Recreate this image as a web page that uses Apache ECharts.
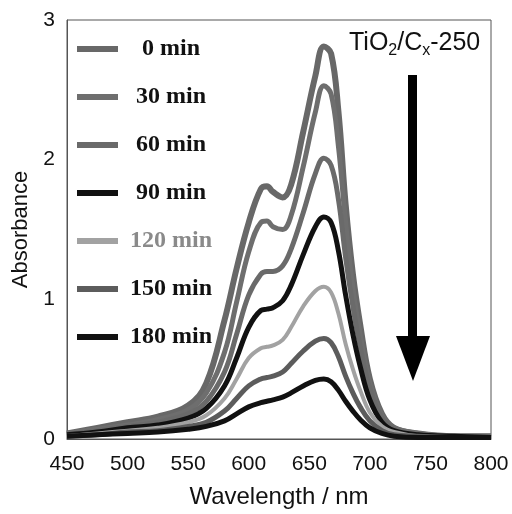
<!DOCTYPE html>
<html>
<head>
<meta charset="utf-8">
<script src="https://cdn.jsdelivr.net/npm/echarts@6/dist/echarts.min.js"></script>
<style>
  html, body { margin: 0; padding: 0; background: #fff; }
  #chart { width: 512px; height: 514px; }
</style>
</head>
<body>
<div id="chart"></div>
<script>
// 波长 (nm)
const wavelength = [450, 475, 500, 525, 550, 565, 580, 590, 600, 610, 615, 620, 628, 635, 645, 655, 662, 668, 674, 680, 686, 692, 700, 710, 720, 740, 770, 800];

// 各时间点吸光度
const abs0   = [0.04, 0.08, 0.12, 0.16, 0.24, 0.40, 0.85, 1.22, 1.55, 1.79, 1.81, 1.77, 1.73, 1.82, 2.20, 2.60, 2.81, 2.76, 2.35, 1.68, 1.18, 0.82, 0.43, 0.18, 0.08, 0.04, 0.02, 0.02];
const abs30  = [0.04, 0.07, 0.10, 0.14, 0.21, 0.33, 0.62, 0.98, 1.34, 1.55, 1.56, 1.52, 1.50, 1.60, 1.95, 2.34, 2.53, 2.47, 2.10, 1.55, 1.08, 0.75, 0.40, 0.17, 0.08, 0.04, 0.02, 0.02];
const abs60  = [0.03, 0.06, 0.09, 0.12, 0.18, 0.27, 0.48, 0.75, 1.03, 1.18, 1.20, 1.20, 1.24, 1.36, 1.62, 1.90, 2.01, 1.96, 1.72, 1.30, 0.95, 0.66, 0.36, 0.15, 0.07, 0.03, 0.02, 0.01];
const abs90  = [0.03, 0.05, 0.08, 0.10, 0.15, 0.22, 0.38, 0.58, 0.80, 0.92, 0.93, 0.94, 0.99, 1.10, 1.32, 1.52, 1.59, 1.55, 1.35, 1.03, 0.75, 0.52, 0.28, 0.12, 0.06, 0.03, 0.02, 0.01];
const abs120 = [0.02, 0.04, 0.06, 0.08, 0.12, 0.17, 0.29, 0.43, 0.58, 0.65, 0.66, 0.67, 0.71, 0.80, 0.95, 1.06, 1.09, 1.05, 0.90, 0.68, 0.50, 0.35, 0.19, 0.09, 0.05, 0.02, 0.01, 0.01];
const abs150 = [0.02, 0.03, 0.05, 0.06, 0.09, 0.12, 0.20, 0.29, 0.38, 0.43, 0.44, 0.45, 0.48, 0.54, 0.63, 0.70, 0.72, 0.69, 0.59, 0.45, 0.33, 0.23, 0.13, 0.06, 0.03, 0.02, 0.01, 0.01];
const abs180 = [0.02, 0.03, 0.04, 0.05, 0.07, 0.09, 0.13, 0.18, 0.23, 0.26, 0.27, 0.28, 0.30, 0.33, 0.38, 0.42, 0.43, 0.41, 0.35, 0.27, 0.20, 0.14, 0.08, 0.04, 0.02, 0.01, 0.01, 0.01];

const seriesNames = ['0 min', '30 min', '60 min', '90 min', '120 min', '150 min', '180 min'];
const seriesValues = [abs0, abs30, abs60, abs90, abs120, abs150, abs180];
const seriesColors = ['#686868', '#6e6e6e', '#6a6a6a', '#111111', '#a2a2a2', '#5c5c5c', '#111111'];
const seriesWidths = [6, 5, 5, 5, 4, 5, 5];

const chart = echarts.init(document.getElementById('chart'));

chart.setOption({
    animation: false,
    grid: {
        left: 67,
        right: 21,
        top: 20,
        bottom: 73,
        show: true,
        borderColor: '#555',
        borderWidth: 1
    },
    legend: {
        orient: 'vertical',
        left: 72,
        top: 32,
        icon: 'rect',
        itemWidth: 41,
        itemHeight: 6,
        itemGap: 24,
        formatter: '{a|{name}}',
        textStyle: {
            fontFamily: 'Liberation Serif',
            fontWeight: 'bold',
            fontSize: 24,
            color: '#111',
            rich: {
                a: { width: 96, height: 24, align: 'center', lineHeight: 24, fontFamily: 'Liberation Serif', fontWeight: 'bold', fontSize: 24 }
            }
        },
        data: seriesNames.map(n => n === '120 min'
            ? { name: n, textStyle: { color: '#8a8a8a' } }
            : { name: n })
    },
    xAxis: {
        type: 'value',
        min: 450,
        max: 800,
        interval: 50,
        name: 'Wavelength / nm',
        nameLocation: 'middle',
        nameGap: 46,
        nameTextStyle: { fontFamily: 'Liberation Sans', fontSize: 24, color: '#111' },
        axisLine: { lineStyle: { color: '#555', width: 1 } },
        axisTick: { show: false },
        splitLine: { show: false },
        axisLabel: { fontFamily: 'Liberation Sans', fontSize: 21, color: '#111', margin: 15 }
    },
    yAxis: {
        type: 'value',
        min: 0,
        max: 3,
        interval: 1,
        name: 'Absorbance',
        nameLocation: 'middle',
        nameGap: 27,
        nameTextStyle: { fontFamily: 'Liberation Sans', fontSize: 22, color: '#111' },
        axisLine: { show: true, lineStyle: { color: '#555', width: 1 } },
        axisTick: { show: false },
        splitLine: { show: false },
        axisLabel: { fontFamily: 'Liberation Sans', fontSize: 21, color: '#111', margin: 12 }
    },
    graphic: [
        {
            type: 'text',
            left: 349,
            top: 31,
            style: {
                text: 'TiO{s|2}/C{s|x}-250',
                font: '25px Liberation Sans',
                fill: '#111',
                rich: {
                    s: { fontSize: 16, fontFamily: 'Liberation Sans', verticalAlign: 'bottom', padding: [14, 0, 0, 0] }
                }
            }
        },
        {
            type: 'rect',
            shape: { x: 408, y: 75, width: 9, height: 266 },
            style: { fill: '#000' }
        },
        {
            type: 'polygon',
            shape: { points: [[396, 336], [430, 336], [413, 381]] },
            style: { fill: '#000' }
        }
    ],
    series: seriesNames.map((name, k) => ({
        name: name,
        type: 'line',
        smooth: 0.4,
        symbol: 'none',
        data: wavelength.map((w, i) => [w, seriesValues[k][i]]),
        itemStyle: { color: seriesColors[k] },
        lineStyle: { width: seriesWidths[k], color: seriesColors[k] }
    }))
});
</script>
</body>
</html>
